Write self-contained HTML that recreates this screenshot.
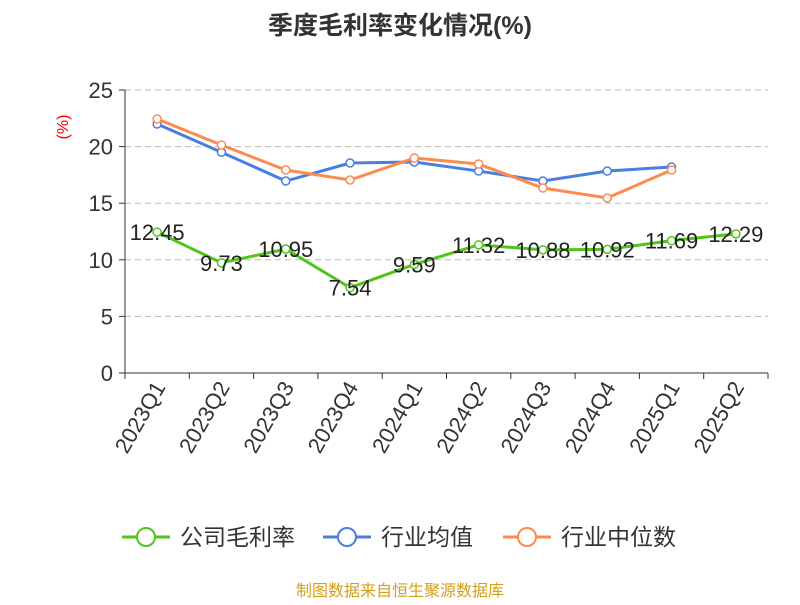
<!DOCTYPE html>
<html><head><meta charset="utf-8"><style>
body{margin:0;background:#fff;width:800px;height:600px;overflow:hidden;font-family:"Liberation Sans","Noto Sans CJK SC",sans-serif}
</style></head><body>
<svg id="c" width="800" height="600" xmlns="http://www.w3.org/2000/svg">
<text x="400" y="34" text-anchor="middle" font-size="25" font-weight="bold" fill="#333">季度毛利率变化情况(%)</text>
<text x="68" y="127" font-size="16" fill="#e00" transform="rotate(-90 68 127)" text-anchor="middle">(%)</text>
<g id="grid"></g><g id="axes"></g><g id="series"></g>
<g font-size="23" fill="#333">
<g><line x1="122" y1="537" x2="170" y2="537" stroke="#52c41a" stroke-width="3"/><circle cx="146" cy="537" r="9" fill="#fff" stroke="#52c41a" stroke-width="2"/><text x="180" y="545">公司毛利率</text></g>
<g><line x1="323" y1="537" x2="371" y2="537" stroke="#4a7fe0" stroke-width="3"/><circle cx="347" cy="537" r="9" fill="#fff" stroke="#4a7fe0" stroke-width="2"/><text x="381" y="545">行业均值</text></g>
<g><line x1="503" y1="537" x2="551" y2="537" stroke="#ff8a50" stroke-width="3"/><circle cx="527" cy="537" r="9" fill="#fff" stroke="#ff8a50" stroke-width="2"/><text x="561" y="545">行业中位数</text></g>
</g>
<text x="400" y="596" text-anchor="middle" font-size="16" fill="#d4a017">制图数据来自恒生聚源数据库</text>
</svg>
<script>
const categories=["2023Q1","2023Q2","2023Q3","2023Q4","2024Q1","2024Q2","2024Q3","2024Q4","2025Q1","2025Q2"];
const companyValues=[12.45,9.73,10.95,7.54,9.59,11.32,10.88,10.92,11.69,12.29];
const avgValues=[22.0,19.5,16.96,18.55,18.64,17.84,16.96,17.84,18.2,null];
const medianValues=[22.44,20.14,17.93,17.05,18.99,18.46,16.34,15.46,17.93,null];
const yTicks=[0,5,10,15,20,25];
const NS="http://www.w3.org/2000/svg";
const L=125,R=768,T=90,B=373,yMax=25;
const bw=(R-L)/categories.length;
const x=i=>L+bw*(i+0.5);
const y=v=>B-(v/yMax)*(B-T);
function mk(tag,attrs,parent){const e=document.createElementNS(NS,tag);for(const k in attrs)e.setAttribute(k,attrs[k]);parent.appendChild(e);return e;}
const grid=document.getElementById('grid'),axes=document.getElementById('axes'),ser=document.getElementById('series');
yTicks.forEach(t=>{
 if(t>0){const g=mk('line',{x1:L,x2:R,y1:y(t),y2:y(t),stroke:'#bbb','stroke-dasharray':'6,4'},grid);
 
 }
 const tk=mk('line',{x1:L-6,x2:L,y1:y(t),y2:y(t),stroke:'#333'},axes);
 
 
 const tl=mk('text',{x:L-12,y:y(t)+8,'text-anchor':'end','font-size':22,fill:'#333'},axes);
 tl.textContent=t;
 
 
});
const ya=mk('line',{x1:L,x2:L,y1:T,y2:B,stroke:'#333'},axes);


const xa=mk('line',{x1:L,x2:R,y1:B,y2:B,stroke:'#333'},axes);


for(let i=0;i<=categories.length;i++){const t=mk('line',{x1:L+bw*i,x2:L+bw*i,y1:B,y2:B+6,stroke:'#333'},axes);
 
 }
categories.forEach((c,i)=>{const t=mk('text',{x:x(i)+9,y:B+14,'text-anchor':'end','font-size':22,fill:'#333',transform:`rotate(-60 ${x(i)+9} ${B+14})`},axes);
 t.textContent=c;
 
 });
function series(vals,color,name,labels){
 const pts=vals.map((v,i)=>v==null?null:[x(i),y(v)]).filter(p=>p);
 const pl=mk('polyline',{points:pts.map(p=>p.join(',')).join(' '),fill:'none',stroke:color,'stroke-width':3},ser);
 
 
 vals.forEach((v,i)=>{if(v==null)return;
  const c=mk('circle',{cx:x(i),cy:y(v),r:4,fill:'#fff',stroke:color,'stroke-width':1.5},ser);
  
  
  if(labels){const t=mk('text',{x:x(i),y:y(v)+8,'text-anchor':'middle','font-size':22,fill:'#222'},ser);
   t.textContent=v.toFixed(2);
   
   }
 });
}
series(avgValues,'#4a7fe0','industry-avg',false);
series(medianValues,'#ff8a50','industry-median',false);
series(companyValues,'#52c41a','company',true);
</script>
</body></html>
